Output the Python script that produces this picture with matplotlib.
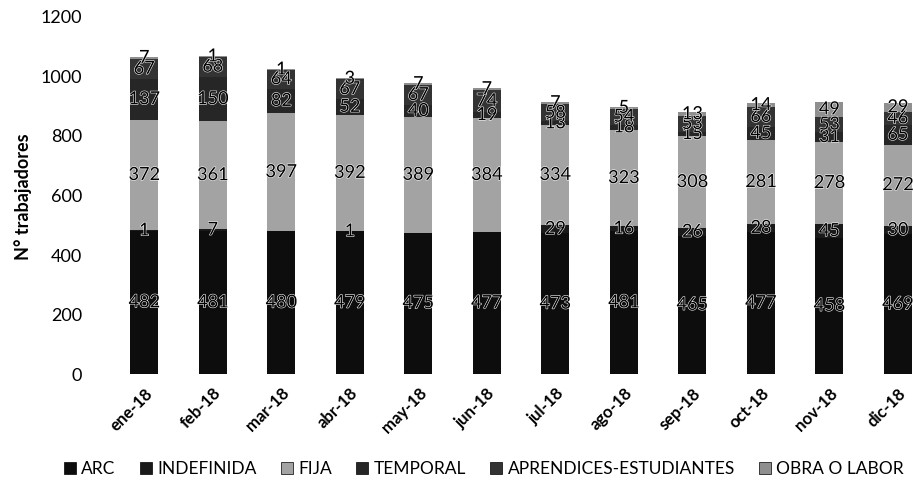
import numpy as np
import matplotlib
matplotlib.use('Agg')
import matplotlib.pyplot as plt
from matplotlib.patches import Patch
import matplotlib.patheffects as pe

plt.rcParams.update({
    'font.family': ['Lato', 'DejaVu Sans'],
    'font.size': 13,
})

# ── data ──────────────────────────────────────────────────
months = ['ene-18', 'feb-18', 'mar-18', 'abr-18', 'may-18', 'jun-18',
          'jul-18', 'ago-18', 'sep-18', 'oct-18', 'nov-18', 'dic-18']
series_names = ['ARC', 'INDEFINIDA', 'FIJA', 'TEMPORAL',
                'APRENDICES-ESTUDIANTES', 'OBRA O LABOR']
arc = [482, 481, 480, 479, 475, 477, 473, 481, 465, 477, 458, 469]
indefinida = [1, 7, 0, 1, 0, 0, 29, 16, 26, 28, 45, 30]
fija = [372, 361, 397, 392, 389, 384, 334, 323, 308, 281, 278, 272]
temporal = [137, 150, 82, 52, 40, 19, 13, 18, 15, 45, 31, 65]
aprendices = [67, 68, 64, 67, 67, 74, 58, 54, 53, 66, 53, 46]
obra = [7, 1, 1, 3, 7, 7, 7, 5, 13, 14, 49, 29]

colors = ['#0d0d0d', '#1a1a1a', '#a3a3a3', '#262626', '#333333', '#8f8f8f']

fig = plt.figure(figsize=(9.13, 4.94), dpi=100)
ax = fig.add_axes([0.1205, 0.2429, 0.8795, 0.7227])

x = np.arange(len(months))
bottom = np.zeros(len(months))
for name, vals, col in zip(series_names,
                           [arc, indefinida, fija, temporal, aprendices, obra],
                           colors):
    vals = np.array(vals, dtype=float)
    ax.bar(x, vals, bottom=bottom, width=0.41, color=col, label=name)
    for xi, b, v in zip(x, bottom, vals):
        if v > 0:
            ax.text(xi, b + v / 2, f'{int(v)}', ha='center', va='center',
                    fontsize=13, color='black',
                    path_effects=[pe.withStroke(linewidth=0.8, foreground='white')])
    bottom += vals

ax.set_xlim(-0.5, 11.22)
ax.set_ylim(0, 1200)
ax.set_yticks(np.arange(0, 1201, 200))
ax.set_xticks(x)
ax.set_xticklabels(months, rotation=45, ha='right', rotation_mode='anchor',
                   fontweight='bold', fontsize=12)
ax.tick_params(axis='both', length=0)
ax.tick_params(axis='y', pad=20, labelsize=13)
ax.tick_params(axis='x', pad=8)
for s in ax.spines.values():
    s.set_visible(False)
fig.text(23 / 913, 1 - 197 / 494, 'N° trabajadores', rotation=90,
         ha='center', va='center', fontweight='bold', fontsize=13)

handles = [Patch(facecolor=c, edgecolor='black', linewidth=0.5) for c in colors]
fig.legend(handles, series_names, loc='center', bbox_to_anchor=(0.53, 0.05),
           ncol=6, frameon=False, fontsize=12.5, handlelength=0.7,
           handleheight=0.7, handletextpad=0.3, columnspacing=1.4)

fig.savefig('out.png', dpi=100)
